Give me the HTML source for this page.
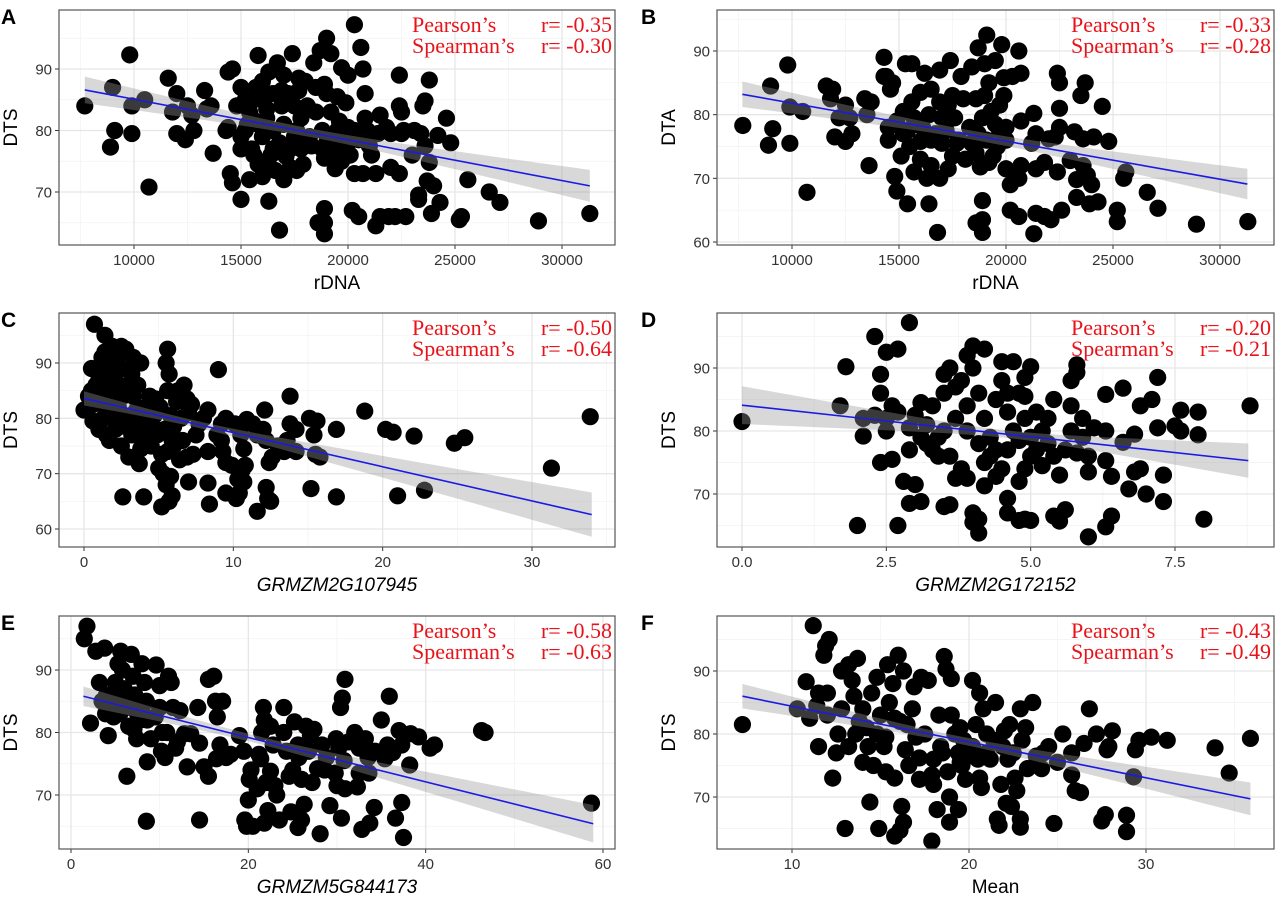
<!DOCTYPE html>
<html><head><meta charset="utf-8"><title>Scatter panels</title>
<style>
html,body{margin:0;padding:0;background:#fff;}
svg{display:block;}
</style></head>
<body>
<svg id="fig" width="1280" height="897" viewBox="0 0 1280 897" xmlns="http://www.w3.org/2000/svg"></svg>
<script>
// ---------- Panel A data (rDNA vs DTS) ----------
const aX=[7700,8900,9000,9100,9800,9900,9900,10500,10700,11600,11800,12000,12000,12400,12500,12700,12800,13300,13400,13600,13700,14300,14500,14600,15000,16300,16800,18600,18900,18900,18900,20200,20500,21300,21500,21900,22200,22700,23300,23300,23900,24300,24000,23700,23800,23000,22400,21300,22000,20700,20300,19700,19400,24800,24200,23600,23400,22500,22000,21400,20800,21500,22400,22500,23500,23600,24600,23800,22400,20700,20600,20300,19700,20000,19000,19200,18700,18400,17400,16700,16300,15800,15000,14600,14400,17700,18900,19000,19900,19500,19200,19600,20000,20300,20000,20900,21000,21100,20500,19300,18900,17900,17300,17600,17000,16600,16000,15400,16200,15500,15000,15000,15300,15400,15600,15700,16000,16500,16900,17200,17500,17800,18100,18500,18800,18200,17600,17000,16500,16000,15800,16200,16800,17300,17800,18300,19000,19500,16500,15600,16200,17000,17700,18500,16900,15200,14800,18000,17500,16100,16400,17100,15800,19500,20800,21800,19700,18800,20100,22600,23100,14400,15200,15500,25200,25300,25600,26600,27100,28900,31300];
const aY=[84,77.3,87,80,92.3,84,79.5,85,70.8,88.5,83,86,79.5,78.5,84,82.5,80,86.5,83.5,84,76.3,80,73,71.5,68.8,68.5,63.8,65,67.3,65,63.2,67,66,64.5,66,66,66,66,69.5,68.8,66.5,68.3,71,71.8,74.8,76,73,73,74,73,73,75,73.8,78,79.2,77.5,79.5,79.5,79.5,79.5,82,82.5,84,83,84,84.8,82,88.2,89,90,93.5,97.2,90.2,89,95,92.5,93,91,92.5,91,89.5,92.2,87,90,89.5,88.5,87.5,86,84.5,85.5,83,81.5,80.5,80,78,80,77.5,76,78.5,76.5,75.5,74.5,74,73.5,72,73.5,72.5,72,75,77,77,79,81,83,85,87,88,86,84,86,84,82,84,83,80,79,80,81,80,79,81,82,78,77,77,77.5,78,79,77,76,83.5,89,86.5,87,86.5,85,84,88,79,85.5,76,75.8,74.5,80,86,80.5,76.8,77,76,80,80,80.5,80,82,65.5,66,72,70,68.3,65.3,66.5];
const aLineX=[7700,31300], aLineY=[86.6,71.0];
const aStats=["-0.35","-0.30"];

// ---------- Panel B data (rDNA vs DTA) ----------
const bX=[7700,8900,9000,9100,9800,9900,9900,10500,10700,11600,11800,11900,12000,12200,12500,12500,12700,12800,13400,13500,13700,13600,14300,14400,14500,14500,14800,14900,15400,16400,16800,18600,18900,18900,18900,20200,20600,21300,21400,21800,22100,22600,23300,23300,23900,24300,23800,24000,23600,23000,22400,21800,21400,20200,20600,20000,20700,25200,25200,25500,25600,26600,27100,28900,31300,24800,24100,23600,23200,22500,22500,22000,21400,21300,20700,20700,20600,19900,20300,19800,19500,19100,19000,18700,18400,17900,17400,16900,16200,15600,15300,14700,14300,14600,23500,23700,24500,22400,22500,19200,19000,18600,18000,17500,17300,16900,16500,16000,15600,15200,14900,15200,15500,15100,15700,16000,16500,16300,16900,17300,17500,17700,17200,16700,16100,15700,16400,17000,17600,18300,18700,19100,18600,18100,18800,19400,19600,20000,20000,19500,19300,19700,19900,18900,17800,17000,16500,16000,15400,18400,19200,19700,21200,22300];
const bY=[78.3,75.2,84.5,77.8,87.8,81.2,75.5,80.5,67.8,84.5,82.5,84,76.5,79.5,75.8,81.5,79.5,77,82.5,80,82,72,89,86,76,78,70.3,68,66,66,61.5,63,66.5,63.5,61.5,65,64,61.3,64.5,64,63.5,65,67,69.8,66,66.3,70.5,69,72,72.8,71,72.5,71.5,69,70,71.5,72,65,63.2,70,71,67.8,65.3,62.8,63.2,75.8,76.5,76.2,77.3,78,81,76.2,77,80.2,79,86.5,90,85.8,86,91,88.5,92.5,88,90.5,87.5,86,88.5,87,86.5,88,88,85,86,84,83,85,81.3,86.5,85,85,83,82.5,82.5,83,81.5,82,84,83.5,82,80.5,79,77,75,73.5,71,73,72,70,70,71.5,73.5,75.5,77.5,77,78,79.5,80,79.5,79.5,78,77,76,74,73,71.8,73.5,75,76,78,78.5,80.5,81.5,83,79.5,76,75.5,76,75.8,77.5,75.5,72.5,77.5,75.5,76.5];
const bLineX=[7680,31280], bLineY=[83.2,69.1];
const bStats=["-0.33","-0.28"];

// ---------- Panel C data (GRMZM2G107945 vs DTS) ----------
const cX=[0,0.7,0.5,1.4,1.4,1.1,0.8,0.5,0.6,0.6,1,1.5,1.7,2.5,2.5,2.8,3.8,3.2,2,1.8,1.2,1.5,2,2.3,2.6,3,3.3,3.6,3.5,3.2,2.8,2.2,1.8,1.2,2.2,3,3.7,3.8,4.1,4.4,4.3,4.6,4.8,5.1,4.5,5,5.2,5.3,5.5,5.8,5.9,5.7,5.2,4,2.6,5.6,5.5,5.7,5.6,6.3,6.7,6.9,7,6.5,6,5.9,5.6,6,6.4,6.9,7.3,7,7.5,7.7,8.3,8,8.3,8.3,8.4,9,8.9,9.2,9.5,9.2,9.3,9.5,9.9,9.5,10.2,10.4,10.3,10.7,10.6,10.8,10.7,10.5,10.1,10.9,11.3,11.6,12,12.1,12.2,12.4,12.6,12.2,12.3,11.6,12.5,13,13.4,13.8,13.8,14.2,14.2,13.6,15.1,15.6,15.2,15.4,15.5,15.8,16.9,16.9,18.8,20.2,20.7,21,22.1,22.8,24.8,25.5,31.3,33.9,1,1.6,2.4,0.9,1.3,2.1,2.7,3.4,3.9,4.2,4.7,5.4,6.2,5.8,7.2,6.6,3.6,4.9,0.3,1.9,2.6,3.3];
const cY=[81.5,97,89,95,92,89,86,85,82.5,79.5,78,77,76,75,93,92.5,90,88,88,86,84,81,80,82,84,86,84,82,79,77,78.5,83.5,90,91,91,73,71.8,74.5,76,84,80,78.5,83.5,82,75,71,73.5,70,68,69.5,66,65,64,65.8,65.8,92.5,90,88,85,85,86,83.5,81,80,78.5,76,74,75,72.5,73,73.5,68.5,77,79,81.5,80,74,68.3,64.5,88.8,77,79,80,76,74,72,71.5,66.5,65.5,66.5,69,68.5,70.7,71.5,74.5,77,79,79.8,79,77,78,81.5,76,72,73,67.5,65.5,63.2,65,75,74,84,79,78,74,76,80,79.5,67.3,77,73.5,73,78,65.8,81.3,78,77.5,66,76.8,67,75.5,76.5,71,80.3,87,84,86,83,80,78,80.5,81,78,82,80.5,78,83,80.5,82.5,76,86,77,84,93,89,91];
const cLineX=[0,34.0], cLineY=[83.6,62.6];
const cStats=["-0.50","-0.64"];

// ---------- Panel D data (GRMZM2G172152 vs DTS) ----------
const dX=[0,1.7,1.8,2,2.1,2.1,2.3,2.3,2.4,2.4,2.5,2.7,2.5,2.5,2.4,2.6,2.6,2.7,2.7,2.8,2.9,3,3.1,2.9,2.9,2.9,3,3.1,3.2,3.2,3.3,3.4,3.5,3.5,3.5,3.6,3.7,3.5,3.6,3.7,3.6,3.8,3.9,3.9,3.9,3.8,3.9,4,4.2,4,4.1,4.2,4.3,4.4,4.2,4.4,4.2,4,4,4.1,4.1,4.4,4.5,4.5,4.7,4.6,4.6,4.7,4.6,4.5,4.6,4.6,4.8,4.9,5,4.8,4.9,5,5,4.9,4.9,4.9,5,4.8,5.1,5.2,5.3,5.3,5.4,5.4,5.5,5.4,5.5,5.6,5.6,5.7,5.7,5.7,5.8,5.8,5.9,5.9,6,6,6.1,6,6.3,6.3,6.4,6.4,6.3,6.3,6.6,6.6,6.7,6.8,6.8,6.9,6.9,7,7.1,7.2,7.2,7.3,7.3,7.5,7.6,7.6,7.9,7.9,8,8.8,3.3,3.7,4.1,5.1,5.8,4.3,3.1,3.4,4.8,5.2];
const dY=[81.5,84,90.2,65,82,79.2,82.5,95,86,89,92.5,93,82,80,75,75.5,84,83,65,72,68.5,71.5,68.8,97.2,80.5,77,82.5,84.5,81,78,77,76,80,86,89,90,87,68,68.3,72.5,76,74,72.5,80,84,88,92,93.5,93,90,86,82,79,77,75,72.8,71.3,67,65.5,63.8,66,85,88,91,91,86,83,80,77,74,69.3,67,65.8,66,65.8,72,74,76,79,82,85.5,88.5,90.2,86,83,80,78,82,76,85,73,66.5,65.7,67.5,77,80,84,88,90.5,89.3,82,79,76,73.5,80.5,63.2,80,75.3,72.8,66.5,64.8,85.8,86.8,78.2,70.8,73.5,79.5,74,84,70,85,80.5,88.5,73,68.8,80.8,83.3,80,83,79.4,66,84,84,82,78,77,76.5,76,79,79,78.5,74.5];
const dLineX=[0,8.77], dLineY=[84.1,75.3];
const dStats=["-0.20","-0.21"];

// ---------- Panel E data (GRMZM5G844173 vs DTS) ----------
const eX=[1.5,1.8,2.2,2.8,3.2,3.8,4,4.2,4.5,5,5.3,5.6,5.8,6,6.2,6.5,6.3,6.8,7,7.2,7.5,7.1,7.4,8,8.3,8.5,8.6,9,8.6,8.5,9.6,10,10,10.3,10.2,10.6,11,11.3,11.5,11.8,12,12.3,12.8,13.1,13.5,14.3,14.5,14.5,15,15.5,15.5,16.1,16.3,16.5,16.8,16.4,17.1,17.5,18,19,19.5,19.6,19.8,20.3,20.1,20,20.5,21,21.2,21.5,21.7,21.8,21.4,22,22.2,21.8,22.5,22.8,22.5,23,23.2,23.5,24,24,24.3,24.6,25,24.8,25.2,25.6,25.7,26,26,25.6,26.3,26.5,26.8,27,27.2,27.4,27.8,28.1,28.3,28.8,28.6,29.2,29.8,29.9,30,30.2,30.4,30.6,30.9,30.8,30.9,30.5,31.3,32,32.5,32.5,32.3,32.8,33.2,33.5,33.6,33.7,34.2,34.3,35,35.4,35.7,35.9,36.3,36.6,37,37.3,37.3,37.5,38.2,38.3,39.2,40.5,41,46.3,46.7,58.7,3.5,4.8,5.5,6.7,7.8,9.5,10.8,8,3.9,5.2];
const eY=[95,97,81.5,93,88,93.5,86,79.5,84,88,91,93,90,87,84,81,73,92.5,89,86,83,80.5,79,91,88,85,82,79,75.3,65.8,90.8,87.5,84,80,77,76,89,88,84,77.5,78.5,83.5,79.8,74.5,79.8,84,78.3,66,74.5,73,88.5,89,85,82.5,78,75.8,85,76,76.5,79.5,77,66,65,74,72.5,69.2,65,71,76.5,80,84,82,75.8,72,67.5,65.5,81,78,73.8,71.5,70,66,84,80,77,73,74,67.3,81.7,78,76,72.5,66,64.8,68.5,81,77,79.5,72,80.5,74.2,63.8,78,76,74,68.3,73.5,79,71.5,77.5,84,85.5,88.5,75.5,71,66.3,78.5,80,77.5,73.5,71.3,64.5,79,76,73.5,65.5,68,77,82,75.8,78,85.8,76.8,66.3,80.3,78,68.8,63.2,74.8,79.8,79.3,77.5,78,80.3,80,68.7,85,82.5,83,85,82,82.5,80,84,83,86];
const eLineX=[1.4,58.9], eLineY=[85.8,65.4];
const eStats=["-0.58","-0.63"];

// ---------- Panel F data (Mean vs DTS) ----------
const fX=[7.2,10.3,10.8,11.2,11,11.5,11.5,11.8,11.9,12.1,12,12.3,12.5,12.6,12.8,12.8,13,13.2,13.2,13.4,13.5,13.6,13.7,14,14,14.3,14.4,14.5,14.6,14.8,14.9,15,15.2,15.3,15.3,15.4,15.5,15.7,15.8,15.8,16,16.1,16.3,16.2,16.1,16.3,16.4,16.6,16.5,16.9,17,17.2,17.2,17.3,17.7,17.9,17.9,18,18.2,18.3,18.4,18.6,18.7,18.9,18.9,18.8,19,19,19.2,19.4,19.5,19.4,19.6,19.8,20,20.2,20.2,20.4,20.6,20.6,20.7,20.8,21,21.2,21.5,21.6,21.7,21.8,21.9,22,22.1,22.3,22.4,22.5,22.6,22.7,22.9,22.9,22.9,23,23.2,23.3,23.6,24.1,24.2,24.5,25,24.8,25.3,25.8,25.8,26,26.3,26.5,26.8,27.2,27.5,27.7,27.8,27.9,28.1,28.9,28.9,29.3,29.4,29.6,30.3,31.2,33.9,34.7,35.9,13.8,14.8,15.8,17.5,18.5,19.7,21,22.2,23.8,12,11.4,14.2,16.8,19.5,20.5,18,21.4];
const fY=[81.5,84,88.3,97.2,82.5,86.5,78,92.5,94,95,86.5,73,77,80,90,84,65,91,78,88.5,86,80,92,84,75.5,78,69.2,86.5,75,89,65,83,78,74,79.5,91,85,88,73,63.8,92.5,64.7,66,68.5,82,90,77.5,75,81.5,87.5,79.5,76.2,72.8,89,88.5,73.5,63,72,68,83,78,92.3,90.3,70,66,74,83,88.8,80,77,81,68,75,72.8,76.5,78,88.5,81.5,86.5,73,71.5,84,80,76,85,66.5,65.5,72,78,80.5,69,81.5,68.5,77,73,71,66.5,65.2,84,79,81,74.5,85,74.5,77,78,75.5,65.8,80,77,73.5,71,70.7,78.5,84,80,66.2,67.2,77.5,78,80.5,67.1,64.5,73.2,77.5,79,79.5,79,77.8,73.8,79.3,82,80,82.5,80,77,79,77,76,76.5,83,84.5,81,84,75.5,76,76,79];
const fLineX=[7.2,35.9], fLineY=[86.0,69.7];
const fStats=["-0.43","-0.49"];

// ---------- Axis tick arrays ----------
const rdnaTicks=[10000,15000,20000,25000,30000];
const cXTicks=[0,10,20,30];
const dXTicks=[0,2.5,5,7.5];
const eXTicks=[0,20,40,60];
const fXTicks=[10,20,30];
const yTicks3=[70,80,90];
const yTicks4=[60,70,80,90];

const NS="http://www.w3.org/2000/svg";
const svg=document.getElementById('fig');
function mk(tag,attrs,parent){const e=document.createElementNS(NS,tag);for(const k in attrs)e.setAttribute(k,attrs[k]);(parent||svg).appendChild(e);return e;}
function lin(v0,p0,v1,p1){return v=>p0+(v-v0)*(p1-p0)/(v1-v0);}
function inv(v0,p0,v1,p1){return p=>v0+(p-p0)*(v1-v0)/(p1-p0);}

const panels=[
 {id:'a',letter:'A',L:59,R:615,T:10,B:245,xc:[10000,134,30000,562],yc:[90,69,70,192],xs:aX,ys:aY,lx:aLineX,ly:aLineY,st:aStats,xt:rdnaTicks,yt:yTicks3,xlab:'rDNA',ylab:'DTS',it:false,dec:0,wm:0.7,we:2.6},
 {id:'b',letter:'B',L:717,R:1274,T:10,B:245,xc:[10000,792,30000,1220],yc:[90,51,60,242],xs:bX,ys:bY,lx:bLineX,ly:bLineY,st:bStats,xt:rdnaTicks,yt:yTicks4,xlab:'rDNA',ylab:'DTA',it:false,dec:0,wm:0.7,we:2.4},
 {id:'c',letter:'C',L:59,R:615,T:313,B:547,xc:[0,84,30,532],yc:[90,363,60,529],xs:cX,ys:cY,lx:cLineX,ly:cLineY,st:cStats,xt:cXTicks,yt:yTicks4,xlab:'GRMZM2G107945',ylab:'DTS',it:true,dec:0,wm:0.6,we:4},
 {id:'d',letter:'D',L:717,R:1274,T:313,B:547,xc:[0,742,7.5,1175],yc:[90,368,70,494],xs:dX,ys:dY,lx:dLineX,ly:dLineY,st:dStats,xt:dXTicks,yt:yTicks3,xlab:'GRMZM2G172152',ylab:'DTS',it:true,dec:1,wm:0.6,we:3},
 {id:'e',letter:'E',L:59,R:615,T:616,B:849,xc:[0,71,60,603],yc:[90,670,70,795],xs:eX,ys:eY,lx:eLineX,ly:eLineY,st:eStats,xt:eXTicks,yt:yTicks3,xlab:'GRMZM5G844173',ylab:'DTS',it:true,dec:0,wm:0.6,we:3},
 {id:'f',letter:'F',L:717,R:1274,T:616,B:849,xc:[10,792,30,1146],yc:[90,671,70,797],xs:fX,ys:fY,lx:fLineX,ly:fLineY,st:fStats,xt:fXTicks,yt:yTicks3,xlab:'Mean',ylab:'DTS',it:false,dec:0,wm:0.6,we:2.6}
];

panels.forEach(p=>{
 const xS=lin(...p.xc), yS=lin(...p.yc);
 const xI=inv(...p.xc), yI=inv(...p.yc);
 const g=mk('g',{});
 
 
 const bg=mk('rect',{x:p.L,y:p.T,width:p.R-p.L,height:p.B-p.T,fill:'#fff'},g);
 
 
 // minor grid
 const xstep=p.xt[1]-p.xt[0], ystep=p.yt[1]-p.yt[0];
 const xmin=xI(p.L),xmax=xI(p.R),ymin=yI(p.B),ymax=yI(p.T);
 for(let v=p.xt[0]-xstep*4.5; v<=xmax; v+=xstep){ if(v<xmin) continue; const ln=mk('line',{x1:xS(v),x2:xS(v),y1:p.T,y2:p.B,stroke:'#f2f2f2','stroke-width':0.7},g);   }
 for(let v=p.yt[0]-ystep*4.5; v<=ymax; v+=ystep){ if(v<ymin) continue; const ln=mk('line',{x1:p.L,x2:p.R,y1:yS(v),y2:yS(v),stroke:'#f2f2f2','stroke-width':0.7},g);   }
 // major grid + ticks + labels
 p.xt.forEach(v=>{
  const X=xS(v);
  const ln=mk('line',{x1:X,x2:X,y1:p.T,y2:p.B,stroke:'#e6e6e6','stroke-width':1.3},g);
  
  
  const tk=mk('line',{x1:X,x2:X,y1:p.B,y2:p.B+4,stroke:'#333','stroke-width':1},g);
  
  
  const t=mk('text',{x:X,y:p.B+20,'text-anchor':'middle','font-family':'"Liberation Sans",sans-serif','font-size':15,fill:'#333'},g);
  t.textContent=v.toFixed(p.dec);
  
  
 });
 p.yt.forEach(v=>{
  const Y=yS(v);
  const ln=mk('line',{x1:p.L,x2:p.R,y1:Y,y2:Y,stroke:'#e6e6e6','stroke-width':1.3},g);
  
  
  const tk=mk('line',{x1:p.L-4,x2:p.L,y1:Y,y2:Y,stroke:'#333','stroke-width':1},g);
  
  
  const t=mk('text',{x:p.L-7,y:Y+5.5,'text-anchor':'end','font-family':'"Liberation Sans",sans-serif','font-size':15,fill:'#333'},g);
  t.textContent=v;
  
  
 });
 // clip
 const cp=mk('clipPath',{id:'clip'+p.id},g);
 mk('rect',{x:p.L,y:p.T,width:p.R-p.L,height:p.B-p.T},cp);
 const pts=mk('g',{'clip-path':'url(#clip'+p.id+')'},g);
 
 
 for(let i=0;i<p.xs.length;i++){
  const c=mk('circle',{cx:xS(p.xs[i]),cy:yS(p.ys[i]),r:8.6,fill:'#000'},pts);
  
  
 }
 // confidence band
 const xm=p.xs.reduce((a,b)=>a+b,0)/p.xs.length;
 const ext=Math.max(Math.abs(p.lx[0]-xm),Math.abs(p.lx[1]-xm));
 const fy=x=>p.ly[0]+(x-p.lx[0])*(p.ly[1]-p.ly[0])/(p.lx[1]-p.lx[0]);
 const hw=x=>Math.sqrt(p.wm*p.wm+(p.we*p.we-p.wm*p.wm)*Math.pow((x-xm)/ext,2));
 let up=[],dn=[];
 for(let k=0;k<=60;k++){const x=p.lx[0]+(p.lx[1]-p.lx[0])*k/60; up.push(xS(x)+','+yS(fy(x)+hw(x))); dn.unshift(xS(x)+','+yS(fy(x)-hw(x)));}
 const band=mk('polygon',{points:up.concat(dn).join(' '),fill:'#999','fill-opacity':0.38},pts);
 
 
 const rl=mk('line',{x1:xS(p.lx[0]),y1:yS(p.ly[0]),x2:xS(p.lx[1]),y2:yS(p.ly[1]),stroke:'#1a1ae6','stroke-width':1.6},pts);
 
 
 // frame
 const fr=mk('rect',{x:p.L,y:p.T,width:p.R-p.L,height:p.B-p.T,fill:'none',stroke:'#555','stroke-width':1.2},g);
 
 
 // annotations
 const labs=['Pearson\u2019s','Spearman\u2019s'];
 for(let i=0;i<2;i++){
  const t1=mk('text',{x:p.R-203,y:p.T+22+i*21,'font-family':'"Liberation Serif",serif','font-size':22,fill:'#e8131a'},g);
  t1.textContent=labs[i];
  
  
  const t2=mk('text',{x:p.R-3,y:p.T+22+i*21,'text-anchor':'end','font-family':'"Liberation Serif",serif','font-size':22,fill:'#e8131a'},g);
  t2.textContent='r= '+p.st[i];
  
  
 }
 // axis titles
 const cx=(p.L+p.R)/2;
 const xt=mk('text',{x:cx,y:p.B+44,'text-anchor':'middle','font-family':'"Liberation Sans",sans-serif','font-size':19,fill:'#000','font-style':p.it?'italic':'normal'},g);
 xt.textContent=p.xlab;
 
 
 const cy=(p.T+p.B)/2, yx=p.L-42;
 const yt=mk('text',{x:yx,y:cy,'text-anchor':'middle','font-family':'"Liberation Sans",sans-serif','font-size':19,fill:'#000',transform:'rotate(-90 '+yx+' '+cy+')'},g);
 yt.textContent=p.ylab;
 
 
 const lt=mk('text',{x:p.L<300?1:641,y:p.T+14,'font-family':'"Liberation Sans",sans-serif','font-size':21,'font-weight':'bold',fill:'#000'},g);
 lt.textContent=p.letter;
 
 
});
</script>
</body></html>
